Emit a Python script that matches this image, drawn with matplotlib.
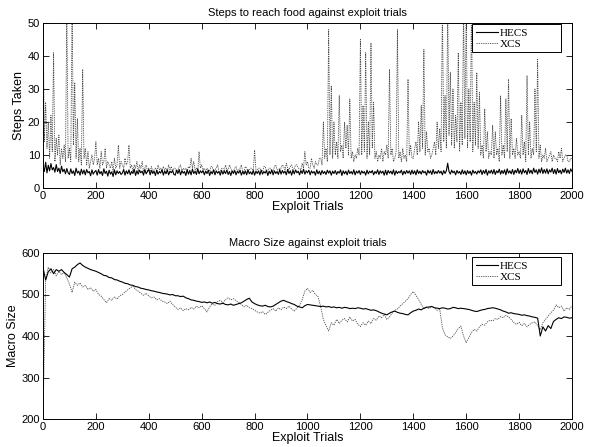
import numpy as np
import matplotlib
matplotlib.use("Agg")
import matplotlib.pyplot as plt

STEP_TOP = 5    # trials between stored samples, top panel
STEP_BOT = 10   # trials between stored samples, bottom panel

hecs_steps = [
    6.5, 5.0, 7.8, 4.6, 6.9, 5.2, 7.4, 5.5, 6.2, 4.8, 7.1, 5.0, 6.0, 4.4, 6.6, 4.9, 5.7, 4.3, 5.9, 4.6,
    4.1, 5.8, 4.4, 5.2, 3.8, 6.0, 4.5, 5.1, 3.9, 5.7, 4.3, 5.4, 4.0, 5.6, 4.6, 5.0, 3.7, 5.5, 4.2, 4.9,
    5.3, 3.9, 5.6, 4.3, 5.0, 3.8, 5.8, 4.4, 5.1, 3.6, 5.4, 4.2, 4.9, 3.5, 5.5, 4.0, 5.2, 4.4, 5.0, 4.1,
    4.5, 5.6, 3.9, 5.2, 4.3, 5.5, 4.0, 5.0, 4.4, 5.7, 3.8, 5.2, 4.2, 5.4, 4.6, 5.1, 3.9, 5.6, 4.3, 5.0,
    5.6, 4.0, 5.3, 4.4, 5.1, 3.8, 5.4, 4.2, 5.0, 4.5, 5.6, 3.9, 5.2, 4.3, 5.5, 4.0, 5.1, 4.6, 5.3, 4.1,
    3.9, 5.4, 4.4, 5.6, 4.0, 5.2, 4.5, 5.0, 3.8, 5.5, 4.2, 5.3, 4.0, 5.7, 4.4, 5.1, 4.1, 5.8, 4.3, 5.2,
    4.6, 5.3, 4.0, 5.1, 4.4, 5.4, 3.8, 5.0, 4.3, 5.5, 4.0, 5.2, 4.5, 5.0, 3.9, 5.3, 4.2, 5.1, 4.4, 5.4,
    4.1, 5.0, 3.8, 5.2, 4.4, 5.3, 4.0, 5.1, 4.5, 5.4, 3.9, 5.0, 4.2, 5.2, 4.0, 5.5, 4.3, 4.9, 4.1, 5.3,
    3.9, 5.1, 4.4, 5.2, 4.0, 5.4, 4.2, 5.0, 4.5, 5.3, 3.8, 5.1, 4.3, 5.5, 4.0, 5.2, 4.4, 5.0, 4.1, 5.6,
    4.2, 5.3, 4.5, 5.1, 4.0, 5.6, 4.4, 5.2, 3.9, 5.4, 4.3, 5.5, 4.6, 5.1, 4.0, 5.3, 4.4, 5.7, 4.2, 5.2,
    4.6, 5.4, 4.0, 5.2, 4.5, 5.0, 3.9, 5.5, 4.3, 5.1, 4.0, 5.3, 4.4, 5.0, 4.1, 5.4, 4.5, 5.2, 3.9, 5.1,
    4.4, 5.3, 4.1, 5.0, 4.5, 5.5, 3.8, 5.2, 4.3, 5.1, 4.0, 5.4, 4.4, 5.0, 4.2, 5.5, 4.0, 5.1, 4.5, 5.3,
    4.1, 5.2, 4.5, 5.0, 3.9, 5.4, 4.3, 5.1, 4.6, 5.3, 4.0, 5.0, 4.4, 5.5, 4.1, 5.2, 4.5, 5.1, 3.9, 5.4,
    4.0, 5.3, 4.5, 5.1, 4.2, 5.5, 3.9, 5.2, 4.4, 5.0, 4.6, 5.4, 4.0, 5.1, 4.3, 5.3, 4.5, 5.2, 4.1, 5.4,
    4.3, 5.2, 4.0, 5.5, 4.4, 5.1, 4.2, 5.3, 4.6, 5.0, 3.9, 5.4, 4.5, 5.2, 4.1, 5.6, 4.3, 5.0, 4.4, 5.3,
    4.5, 5.1, 4.0, 5.3, 4.4, 5.2, 7.5, 5.0, 4.2, 5.4, 4.6, 5.1, 4.0, 5.3, 4.5, 5.0, 4.1, 5.5, 4.3, 5.2,
    4.0, 5.3, 4.4, 5.1, 3.9, 5.4, 4.5, 5.0, 4.2, 5.2, 4.6, 5.5, 4.1, 5.3, 4.4, 5.6, 3.9, 5.2, 4.5, 5.4,
    4.3, 5.6, 4.1, 5.2, 4.6, 5.7, 4.2, 5.3, 4.4, 5.5, 4.0, 5.8, 4.5, 5.2, 4.3, 5.6, 4.1, 5.4, 4.6, 5.9,
    4.4, 5.5, 4.2, 5.8, 4.6, 5.3, 4.1, 5.9, 4.5, 5.4, 4.3, 6.0, 4.7, 5.5, 4.2, 5.7, 4.6, 6.1, 4.4, 5.6,
    4.5, 5.8, 4.3, 5.5, 4.8, 6.0, 4.4, 5.6, 4.2, 5.9, 4.6, 5.4, 4.3, 5.7, 4.7, 6.0, 4.5, 5.5, 4.4, 5.8,
    5.0,
]

xcs_steps = [
    55, 14, 26, 12, 20, 9, 22, 11, 41, 8, 15, 10, 16, 7, 12, 9, 13, 8, 55, 9,
    12, 8, 55, 13, 32, 9, 21, 8, 12, 7, 36, 9, 12, 7, 11, 6, 8, 10, 7, 9,
    14, 7, 9, 6, 11, 7, 8, 12, 6, 8, 7, 6, 8, 5, 9, 6, 7, 13, 6, 8,
    7, 6, 9, 7, 8, 13, 6, 7, 5, 7, 6, 8, 5, 7, 6, 8, 5, 6, 7, 5,
    6, 5, 6.5, 5, 5.5, 6, 5, 7, 5.5, 6, 5, 6.5, 5.5, 6, 5, 7, 5.5, 6.5, 5, 6,
    6, 5, 5.5, 6.5, 7, 5, 6, 5.5, 6, 5, 6.5, 6, 9, 6, 8, 5.5, 6, 5, 11, 6,
    7, 5.5, 6, 5, 6, 5.5, 5, 6.5, 6.5, 5, 5.5, 6, 7, 5, 5, 6, 6, 5, 7, 5.5,
    5.5, 7, 6, 5, 5, 6, 6.5, 5, 5.5, 6, 7, 5, 5, 6.5, 6, 5, 5.5, 6, 6, 5,
    11.5, 5.5, 5.5, 6, 6, 5, 5, 6.5, 6.5, 5, 5.5, 6, 6, 5, 5, 6.5, 7, 5.5, 5.5, 6,
    6, 7, 6.5, 5.5, 7.5, 6, 5.5, 6.5, 7, 5.5, 6, 7, 7, 6, 6, 5.5, 7.5, 6, 11, 7,
    8, 6, 6, 9, 7, 6, 8, 7, 7, 9, 9, 7, 20, 9, 12, 8, 48, 10, 31, 9,
    20, 10, 14, 9, 28, 11, 13, 9, 20, 12, 19, 10, 27, 9, 11, 8, 10, 9, 12, 10,
    45, 10, 25, 11, 41, 9, 20, 10, 44, 12, 26, 9, 11, 8, 10, 9, 12, 8, 11, 10,
    13, 9, 36, 10, 12, 8, 9, 11, 48, 9, 11, 8, 12, 9, 10, 8, 33, 10, 13, 9,
    9, 12, 14, 10, 20, 11, 25, 12, 42, 10, 17, 11, 12, 9, 10, 12, 14, 10, 20, 12,
    18, 11, 55, 14, 28, 12, 55, 16, 35, 13, 30, 12, 22, 14, 41, 11, 26, 13, 55, 15,
    55, 12, 30, 14, 55, 11, 26, 13, 35, 12, 29, 10, 13, 9, 24, 11, 17, 9, 11, 10,
    19, 9, 17, 10, 12, 8, 28, 10, 13, 9, 27, 11, 33, 9, 21, 10, 12, 9, 15, 10,
    11, 9, 22, 10, 14, 8, 34, 10, 20, 9, 12, 10, 30, 11, 39, 9, 13, 8, 10, 9,
    12, 8, 9, 10, 11, 8, 10, 9, 9, 8, 11, 9, 12, 8, 9, 10, 10, 8, 8, 9,
    9,
]

hecs_macro = [
    565, 535, 555, 562, 550, 560, 556, 560, 553, 548,
    542, 562, 566, 572, 576, 570, 566, 563, 560, 558,
    556, 553, 550, 546, 545, 541, 540, 536, 535, 532,
    530, 527, 526, 523, 522, 519, 518, 515, 514, 512,
    511, 509, 508, 506, 505, 503, 502, 501, 499, 500,
    497, 497, 495, 496, 492, 490, 487, 486, 484, 483,
    481, 482, 480, 482, 479, 481, 478, 477, 479, 476,
    475, 477, 474, 476, 478, 480, 484, 488, 491, 482,
    478, 475, 473, 472, 474, 471, 470, 472, 476, 480,
    484, 486, 483, 481, 478, 476, 472, 470, 468, 473,
    476, 475, 474, 473, 472, 471, 472, 470, 471, 469,
    470, 468, 469, 467, 469, 468, 466, 467, 466, 468,
    467, 465, 466, 464, 462, 463, 461, 458, 455, 453,
    451, 455, 458, 460, 457, 455, 454, 452, 451, 456,
    460, 462, 465, 463, 467, 469, 470, 471, 468, 467,
    466, 468, 467, 465, 466, 469, 468, 466, 467, 466,
    465, 464, 462, 460, 459, 461, 463, 464, 466, 467,
    468, 467, 465, 463, 460, 458, 455, 456, 454, 453,
    452, 450, 451, 449, 448, 446, 445, 443, 400, 422,
    412, 425, 418, 435, 440, 444, 442, 446, 445, 443,
    444,
]

xcs_macro = [
    200, 535, 566, 552, 560, 545, 556, 548, 553, 540,
    525, 505, 530, 522, 528, 518, 522, 512, 516, 508,
    512, 500, 496, 488, 480, 490, 486, 494, 489, 497,
    500, 506, 511, 516, 520, 512, 508, 503, 498, 503,
    496, 492, 494, 487, 490, 484, 482, 478, 484, 476,
    470, 464, 468, 461, 466, 463, 469, 465, 472, 468,
    473, 466, 458, 470, 478, 474, 483, 486, 480, 488,
    492, 487, 490, 485, 481, 476, 470, 474, 468, 466,
    462, 458, 455, 459, 452, 457, 462, 466, 460, 468,
    463, 470, 466, 472, 465, 460, 467, 474, 488, 508,
    515, 505, 510, 500, 495, 470, 440, 425, 412, 432,
    426, 440, 430, 438, 442, 434, 446, 436, 440, 428,
    423, 432, 426, 436, 430, 442, 438, 448, 444, 452,
    440, 446, 455, 462, 465, 472, 478, 484, 490, 500,
    507, 498, 488, 476, 465, 470, 466, 472, 468, 462,
    464, 420, 403, 398, 394, 400, 408, 418, 424, 400,
    384, 396, 408, 416, 412, 422, 428, 426, 434, 438,
    436, 442, 440, 447, 444, 450, 446, 440, 432, 428,
    433, 425, 430, 422, 428, 432, 434, 425, 415, 432,
    440, 448, 456, 462, 475, 468, 472, 460, 468, 464,
    473,
]

series_names = ["HECS", "XCS"]
x_ticks = [0, 200, 400, 600, 800, 1000, 1200, 1400, 1600, 1800, 2000]

plt.rcParams['font.family'] = ['Liberation Sans', 'DejaVu Sans']

fig = plt.figure(figsize=(5.92, 4.47), dpi=100)
W, H = 592, 447
def rect(l, t, r, b):
    return [l / W, 1 - b / H, (r - l) / W, (b - t) / H]

ax1 = fig.add_axes(rect(43, 23, 572, 188))
ax2 = fig.add_axes(rect(43, 253, 572, 419))

solid_kw = dict(color='black', lw=0.8, linestyle='-')
dot_kw = dict(color='#4a4a4a', lw=0.6, linestyle=(0, (1.5, 1.2)))

t1 = np.arange(len(hecs_steps)) * STEP_TOP
t2 = np.arange(len(xcs_steps)) * STEP_TOP
t3 = np.arange(len(hecs_macro)) * STEP_BOT
t4 = np.arange(len(xcs_macro)) * STEP_BOT

ax1.plot(t2, xcs_steps, label=series_names[1], **dot_kw)
ax1.plot(t1, hecs_steps, label=series_names[0], **solid_kw)
ax2.plot(t4, xcs_macro, label=series_names[1], **dot_kw)
ax2.plot(t3, hecs_macro, label=series_names[0], **solid_kw)

ax1.set_xlim(0, 2000); ax1.set_ylim(0, 50)
ax1.set_yticks([0, 10, 20, 30, 40, 50])
ax2.set_xlim(0, 2000); ax2.set_ylim(200, 600)
ax2.set_yticks([200, 300, 400, 500, 600])

for ax, title, ylabel, top in [
        (ax1, "Steps to reach food against exploit trials", "Steps Taken", 0.994),
        (ax2, "Macro Size against exploit trials", "Macro Size", 0.976)]:
    ax.set_xticks(x_ticks)
    ax.tick_params(direction='in', top=True, right=True, length=4, width=0.6,
                   labelsize=8, pad=2)
    for s in ax.spines.values():
        s.set_linewidth(0.7)
    ax.set_title(title, fontsize=8, pad=5)
    ax.set_xlabel("Exploit Trials", fontsize=9, labelpad=0)
    ax.set_ylabel(ylabel, fontsize=9, labelpad=2)
    handles, labels = ax.get_legend_handles_labels()
    order = [1, 0]
    leg = ax.legend([handles[i] for i in order], [labels[i] for i in order],
                    loc='upper left', bbox_to_anchor=(0.811, top - 0.3, 0.168, 0.3),
                    mode='expand', borderaxespad=0,
                    fancybox=False, edgecolor='black', framealpha=1,
                    prop={'family': 'Liberation Serif', 'size': 8},
                    handlelength=2.0, handletextpad=0.15, labelspacing=0.1,
                    borderpad=0.35)
    leg.get_frame().set_linewidth(0.7)

fig.savefig("out.png", dpi=100)
